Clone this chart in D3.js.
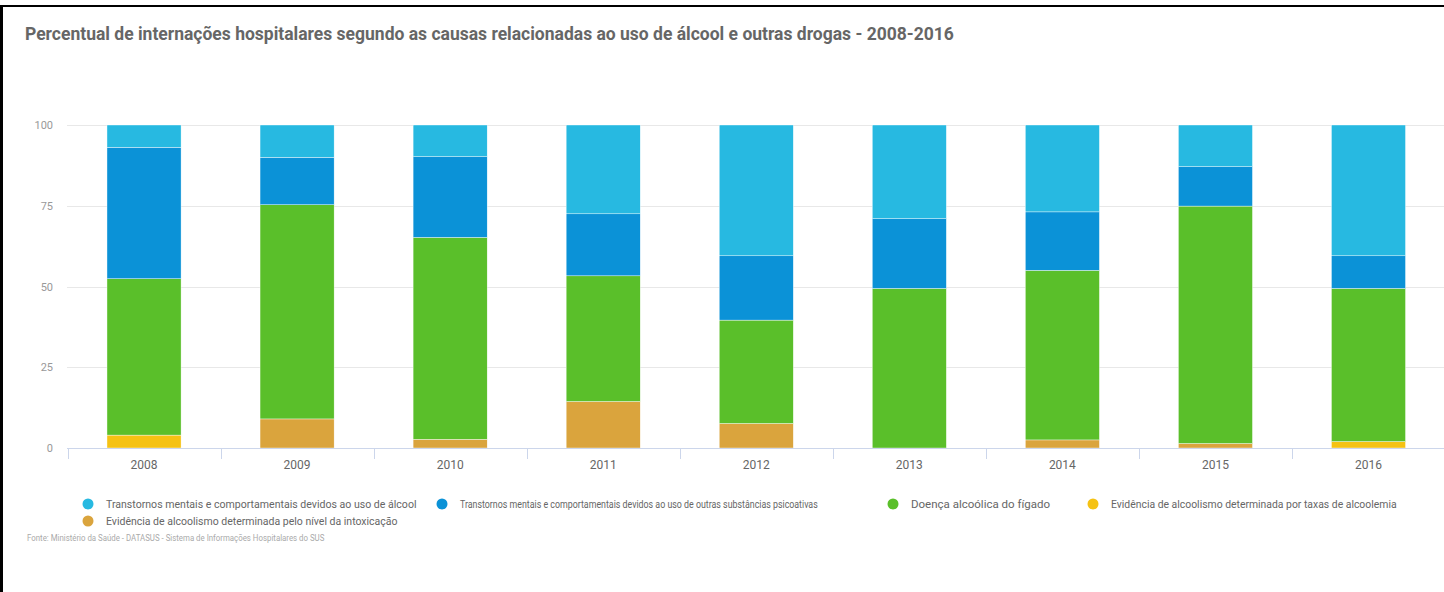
<!DOCTYPE html>
<html>
<head>
<meta charset="utf-8">
<script src="https://cdn.jsdelivr.net/npm/d3@7"></script>
<style>
  html, body { margin: 0; padding: 0; background: #fff; }
  svg { display: block; }
</style>
</head>
<body>
<div id="chart"></div>
<script>
// dados (percentual por ano)
const years = ["2008", "2009", "2010", "2011", "2012", "2013", "2014", "2015", "2016"];
const alcool = [6.9, 10.0, 9.8, 27.5, 40.5, 29.0, 26.9, 12.9, 40.5];
const outrasSubst = [40.7, 14.7, 25.0, 19.2, 19.9, 21.6, 18.1, 12.2, 10.1];
const figado = [48.4, 66.3, 62.5, 38.9, 32.0, 49.4, 52.5, 73.5, 47.4];
const taxas = [4.0, 0, 0, 0, 0, 0, 0, 0, 2.0];
const intoxicacao = [0, 9.0, 2.7, 14.4, 7.6, 0, 2.5, 1.4, 0];
const yTicks = [0, 25, 50, 75, 100];

const seriesNames = [
    "Transtornos mentais e comportamentais devidos ao uso de álcool",
    "Transtornos mentais e comportamentais devidos ao uso de outras substâncias psicoativas",
    "Doença alcoólica do fígado",
    "Evidência de alcoolismo determinada por taxas de alcoolemia",
    "Evidência de alcoolismo determinada pelo nível da intoxicação"
];
const seriesKeys = ["alcool", "outras", "figado", "taxas", "intox"];
const seriesColors = ["#27b9e1", "#0b92d7", "#5abf2a", "#f5c213", "#daa43d"];

const width = 1444;
const height = 592;
const font = "Roboto, sans-serif";

const rows = years.map((y, i) => ({
    year: y,
    alcool: alcool[i],
    outras: outrasSubst[i],
    figado: figado[i],
    taxas: taxas[i],
    intox: intoxicacao[i]
}));

// empilha de baixo para cima
const stack = d3.stack().keys(["intox", "taxas", "figado", "outras", "alcool"]);
const stacked = stack(rows);

const color = d3.scaleOrdinal().domain(seriesKeys).range(seriesColors);

const x = d3.scaleBand()
    .domain(years)
    .range([67.5, 1445])
    .paddingInner(0.516)
    .paddingOuter(0.258);

const y = d3.scaleLinear()
    .domain([0, 100])
    .range([448, 125]);

const svg = d3.select("#chart").append("svg")
    .attr("width", width)
    .attr("height", height);

svg.append("rect")
    .attr("width", width)
    .attr("height", height)
    .attr("fill", "#fff");

// moldura
svg.append("rect").attr("x", 0).attr("y", 5).attr("width", width).attr("height", 2).attr("fill", "#000");
svg.append("rect").attr("x", 0).attr("y", 5).attr("width", 3).attr("height", height - 5).attr("fill", "#000");

// título
svg.append("text")
    .attr("x", 25)
    .attr("y", 40)
    .style("font-family", font)
    .style("font-weight", "bold")
    .style("font-size", "17.5px")
    .style("fill", "#666")
    .text("Percentual de internações hospitalares segundo as causas relacionadas ao uso de álcool e outras drogas - 2008-2016");

// grade
svg.append("g")
    .selectAll("line")
    .data(yTicks.filter(d => d > 0))
    .enter().append("line")
    .attr("x1", 67)
    .attr("x2", width)
    .attr("y1", d => Math.round(y(d)) + 0.5)
    .attr("y2", d => Math.round(y(d)) + 0.5)
    .attr("stroke", "#e8e8e8")
    .attr("stroke-width", 1);

// eixo y
const yAxis = svg.append("g")
    .attr("transform", "translate(53,0)")
    .call(d3.axisLeft(y).tickValues(yTicks).tickSize(0).tickPadding(0));
yAxis.select(".domain").remove();
yAxis.selectAll("text")
    .style("font-family", font)
    .style("font-size", "11px")
    .style("fill", "#999");

// barras
svg.append("g")
    .selectAll("g")
    .data(stacked)
    .enter().append("g")
    .attr("fill", d => color(d.key))
    .selectAll("rect")
    .data(d => d)
    .enter().append("rect")
    .attr("x", d => x(d.data.year))
    .attr("width", x.bandwidth())
    .attr("y", d => y(d[1]))
    .attr("height", d => y(d[0]) - y(d[1]))
    .attr("stroke", "#fff")
    .attr("stroke-width", 0.4);

// eixo x
const xAxis = svg.append("g")
    .attr("transform", "translate(0,448)")
    .call(d3.axisBottom(x).tickSize(0).tickPadding(12));
xAxis.select(".domain")
    .attr("d", "M67,0.5H" + width)
    .attr("stroke", "#ccd6eb");
xAxis.selectAll("text")
    .style("font-family", font)
    .style("font-size", "12px")
    .style("fill", "#666");

// marcas entre categorias
svg.append("g")
    .selectAll("line")
    .data(d3.range(years.length + 1))
    .enter().append("line")
    .attr("x1", i => Math.round(x.range()[0] + i * x.step()) + 0.5)
    .attr("x2", i => Math.round(x.range()[0] + i * x.step()) + 0.5)
    .attr("y1", 448)
    .attr("y2", 459)
    .attr("stroke", "#ccd6eb");

// encolhe horizontalmente um texto até caber na largura dada
function fitWidth(sel, maxW) {
    sel.each(function(d, i) {
        const w = this.getComputedTextLength();
        const target = typeof maxW === "function" ? maxW(d, i) : maxW;
        const s = Math.min(1, target / w);
        const x0 = +d3.select(this).attr("x") || 0;
        d3.select(this).attr("transform", `translate(${x0 * (1 - s)},0) scale(${s},1)`);
    });
}

// legenda
const legendPos = [
    { x: 106, y: 504, w: 311 },
    { x: 460, y: 504, w: 358 },
    { x: 911, y: 504, w: 149 },
    { x: 1111, y: 504, w: 286 },
    { x: 106, y: 521, w: 292 }
];

const legend = svg.append("g")
    .selectAll("g")
    .data(seriesKeys)
    .enter().append("g")
    .attr("transform", (d, i) => `translate(${legendPos[i].x},${legendPos[i].y})`);

legend.append("circle")
    .attr("cx", -18)
    .attr("cy", 0)
    .attr("r", 5.5)
    .attr("fill", d => color(d));

legend.append("text")
    .attr("x", 0)
    .attr("y", 4)
    .style("font-family", font)
    .style("font-size", "11.5px")
    .style("fill", "#666")
    .text((d, i) => seriesNames[i])
    .call(fitWidth, (d, i) => legendPos[i].w);

// fonte
svg.append("text")
    .attr("x", 27)
    .attr("y", 541)
    .style("font-family", font)
    .style("font-size", "8.5px")
    .style("fill", "#aaa")
    .text("Fonte: Ministério da Saúde - DATASUS - Sistema de Informações Hospitalares do SUS")
    .call(fitWidth, 298);
</script>
</body>
</html>
